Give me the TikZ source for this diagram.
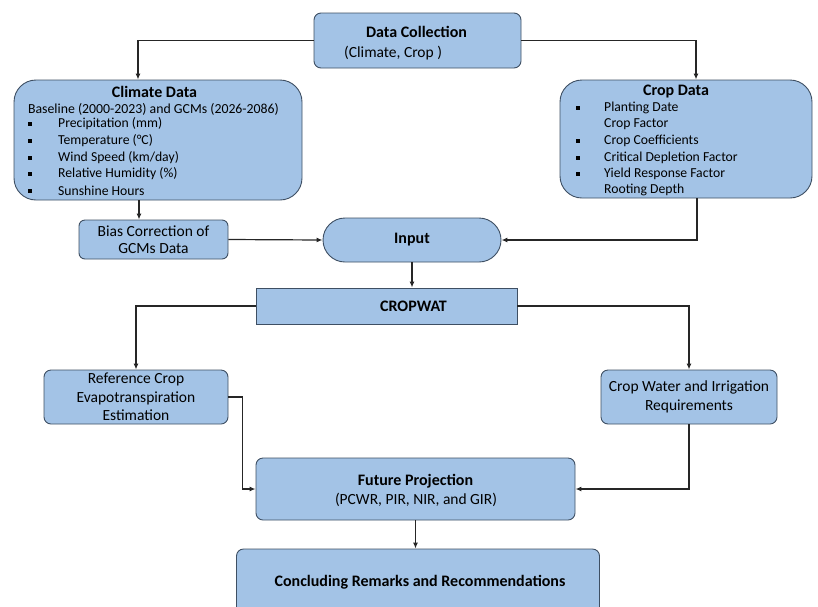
\documentclass[tikz,border=0pt]{standalone}
\usepackage{fontspec}
\setmainfont{Carlito}
\usetikzlibrary{positioning,arrows.meta}

\definecolor{boxfill}{HTML}{A3C3E6}
\definecolor{boxline}{HTML}{3E4F63}

\tikzset{
  databox/.style={draw=boxline, fill=boxfill, line width=0.9pt, rounded corners=7pt, align=center, inner sep=2pt},
  headtxt/.style={font=\bfseries\fontsize{16}{19}\selectfont},
  bodytxt/.style={font=\fontsize{15.5}{18.5}\selectfont, align=center, inner sep=1pt},
  itemtxt/.style={font=\fontsize{13.7}{16}\selectfont, anchor=west, inner sep=1pt},
  sqbullet/.style={fill=black, minimum size=3.4pt, inner sep=0pt},
  flow/.style={draw=black!85, line width=1.2pt, -{Latex[length=6pt,width=5pt]}}
}

\begin{document}
\begin{tikzpicture}[x=1pt, y=-1pt]
\useasboundingbox (0,0) rectangle (818,606);

% boxes
\node[databox, minimum width=207pt, minimum height=55pt] (collect) at (417.5,40.5) {};
\node[databox, rounded corners=22pt, minimum width=288pt, minimum height=120pt] (climate) at (158,140) {};
\node[databox, rounded corners=22pt, minimum width=252pt, minimum height=118pt] (crop) at (686,139) {};
\node[databox, rounded corners=6pt, minimum width=149pt, minimum height=39pt, bodytxt, font=\fontsize{15.5}{17.5}\selectfont] (bias) at (153.5,239.5) {Bias Correction of\\GCMs Data};
\node[databox, rounded corners=22pt, minimum width=178pt, minimum height=44pt, headtxt] (input) at (412,240) {Input};
\node[databox, rounded corners=0pt, minimum width=261pt, minimum height=36pt] (cropwat) at (386.5,306) {};
\node[databox, minimum width=184pt, minimum height=54pt, bodytxt] (reference) at (136,397) {Reference Crop\\Evapotranspiration\\Estimation};
\node[databox, minimum width=176pt, minimum height=54pt, bodytxt] (cropwater) at (689,397) {Crop Water and Irrigation\\Requirements};
\node[databox, minimum width=319pt, minimum height=62pt] (future) at (415.5,489) {};
\node[databox, minimum width=363pt, minimum height=72pt] (conclude) at (418,585) {};

% texts
\node[headtxt] (collecthead) at (416.5,32) {Data Collection};
\node[itemtxt, font=\fontsize{15.5}{18}\selectfont] (collectsub) at (343,53) {(Climate, Crop )};
\node[headtxt] (cropwattxt) at (413.5,306) {CROPWAT};

\node[headtxt] (climatehead) at (154.5,92) {Climate Data};
\node[bodytxt, font=\fontsize{13.8}{16}\selectfont] (baseline) at (153.5,109) {Baseline (2000-2023) and GCMs (2026-2086)};
\foreach \y/\txt [count=\i] in {124/{Precipitation (mm)}, 141/{Temperature (°C)}, 158/{Wind Speed (km/day)}, 174/{Relative Humidity (\%)}, 191/{Sunshine Hours}} {
  \node[sqbullet] (clb\i) at (30,\y) {};
  \node[itemtxt] (cli\i) at (57,\y) {\txt};
}

\node[headtxt] (crophead) at (676,92) {Crop Data};
\foreach \y/\txt [count=\i] in {108/{Planting Date}, 124/{Crop Factor}, 141/{Crop Coefficients}, 158/{Critical Depletion Factor}, 174/{Yield Response Factor}, 190/{Rooting Depth}} {
  \node[itemtxt] (cri\i) at (603,\y) {\txt};
}
\foreach \y [count=\i] in {108,141,158,174} {
  \node[sqbullet] (crb\i) at (578,\y) {};
}

\node[headtxt] (futurehead) at (415.5,481) {Future Projection};
\node[bodytxt] (futuresub) at (416,500) {(PCWR, PIR, NIR, and GIR)};
\node[headtxt] (concludetxt) at (420,582) {Concluding Remarks and Recommendations};

% connectors
\draw[flow] (collect.west) -| ([xshift=-20pt]climate.north);
\draw[flow] (collect.east) -| ([xshift=10pt]crop.north);
\draw[flow] ([xshift=-19pt]climate.south) coordinate (cs) -- (cs |- bias.north);
\draw[flow] (bias.east) -- (input.west);
\draw[flow] ([xshift=11pt]crop.south) |- (input.east);
\draw[flow] (input.south) -- (input.south |- cropwat.north);
\draw[flow] (cropwat.west) -| (reference.north);
\draw[flow] (cropwat.east) -| (cropwater.north);
\draw[flow] (reference.east) -- ++(14,0) |- (future.west);
\draw[flow] (cropwater.south) |- (future.east);
\draw[flow] (future.south) -- (future.south |- conclude.north);
\end{tikzpicture}
\end{document}
